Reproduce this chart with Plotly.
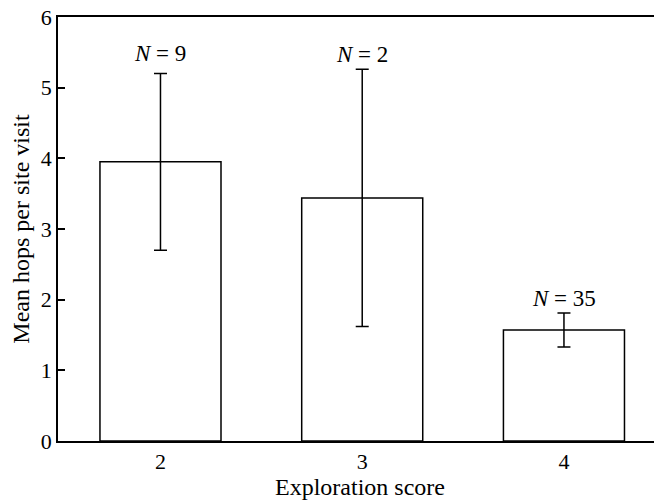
import plotly.graph_objects as go

categories = [2, 3, 4]
means = [3.95, 3.44, 1.57]
errors = [1.25, 1.82, 0.24]
n_labels = ["<i>N</i> = 9", "<i>N</i> = 2", "<i>N</i> = 35"]

FONT = "Liberation Serif"
fig = go.Figure()
fig.add_trace(go.Bar(
    x=categories, y=means, width=0.6,
    marker=dict(color="white", line=dict(color="black", width=1.5)),
    error_y=dict(type="data", array=errors, visible=True, color="black",
                 thickness=1.5, width=6.5),
    showlegend=False,
))

label_gap = [0.29, 0.21, 0.21]
for c, m, e, t, g in zip(categories, means, errors, n_labels, label_gap):
    fig.add_annotation(x=c, y=m + e + g, text=t, showarrow=False,
                       yanchor="middle", font=dict(family=FONT, size=23, color="black"))

fig.update_layout(
    width=654, height=496,
    margin=dict(l=50, r=0, t=9, b=63),
    plot_bgcolor="white", paper_bgcolor="white",
    font=dict(family=FONT, size=22, color="black"),
    xaxis=dict(range=[1.492, 4.486], tickvals=categories, ticktext=[str(c) for c in categories],
               showline=True, linecolor="black", linewidth=1.5, mirror=True,
               ticks="", showgrid=False, zeroline=False, automargin=False,
               tickfont=dict(size=22),
               title=dict(text="Exploration score", standoff=4, font=dict(size=24))),
    yaxis=dict(range=[0, 6], tickvals=[0, 1, 2, 3, 4, 5, 6],
               showline=True, linecolor="black", linewidth=1.5,
               ticks="inside", ticklen=7, tickwidth=1.5, tickcolor="black",
               showgrid=False, zeroline=False, automargin=False,
               ticklabeloverflow="allow",
               tickfont=dict(size=22),
               title=dict(text="Mean hops per site visit", standoff=4, font=dict(size=24))),
)

fig.write_html("out.html")
